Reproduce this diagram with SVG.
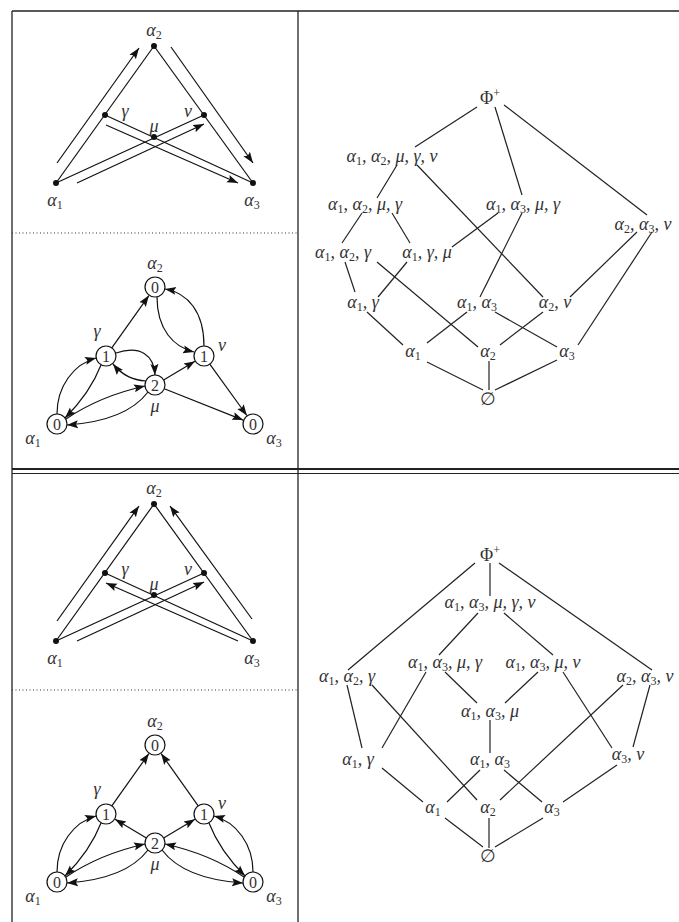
<svg xmlns="http://www.w3.org/2000/svg" width="679" height="922" viewBox="0 0 679 922">
<defs>
<marker id="ah" markerUnits="userSpaceOnUse" markerWidth="12" markerHeight="10" viewBox="0 0 12 10" refX="11" refY="5" orient="auto">
<path d="M0,1 L11,5 L0,9 L2,5 Z" fill="#111"/>
</marker>
</defs>
<style>
.frame{stroke:#222;stroke-width:1.3;fill:none}
.dot{stroke:#333;stroke-width:1;stroke-dasharray:1 2.5;fill:none}
.ln{stroke:#111;stroke-width:1.2;fill:none}
.ar{stroke:#111;stroke-width:1.2;fill:none;marker-end:url(#ah)}
.pt{fill:#111}
.nd{fill:#fff;stroke:#111;stroke-width:1.2}
text{font-family:"Liberation Serif","Times New Roman","DejaVu Serif",serif;fill:#333;text-anchor:middle}
.m{font-style:italic;font-size:18px}
.u{font-style:normal;font-size:18px}
.d{font-style:normal;font-size:16px}
.s{font-style:normal;font-size:12px}
.lt{stroke:#222;stroke-width:1.2;fill:none}
</style>

<g id="table">
<line class="frame" x1="12" y1="11" x2="679" y2="11"/>
<line class="frame" x1="12" y1="11" x2="12" y2="922"/>
<line class="frame" x1="298" y1="11" x2="298" y2="922"/>
<line x1="12" y1="469" x2="679" y2="469" stroke="#222" stroke-width="2"/>
<line x1="12" y1="473.5" x2="679" y2="473.5" stroke="#222" stroke-width="1.2"/>
<line class="dot" x1="12" y1="233" x2="298" y2="233"/>
<line class="dot" x1="12" y1="690" x2="298" y2="690"/>
</g>

<!-- ===== Top-left: root configuration ===== -->
<g id="connectors-top-roots">
<line class="ln" x1="56" y1="183" x2="154" y2="46"/>
<line class="ln" x1="154" y1="46" x2="253" y2="183"/>
<line class="ln" x1="56" y1="183" x2="204" y2="115"/>
<line class="ln" x1="105" y1="115" x2="253" y2="183"/>
<line class="ar" x1="57" y1="163" x2="139" y2="48"/>
<line class="ar" x1="171" y1="47" x2="253" y2="163"/>
<line class="ar" x1="77" y1="183" x2="204" y2="124"/>
<line class="ar" x1="106" y1="125" x2="238" y2="183"/>
</g>
<g id="t-a1"><circle class="pt" cx="56" cy="183" r="3"/><text class="m" x="55" y="206">α<tspan class="s" dy="3">1</tspan></text></g>
<g id="t-a2"><circle class="pt" cx="154" cy="46" r="3"/><text class="m" x="154" y="36">α<tspan class="s" dy="3">2</tspan></text></g>
<g id="t-a3"><circle class="pt" cx="253" cy="183" r="3"/><text class="m" x="252" y="206">α<tspan class="s" dy="3">3</tspan></text></g>
<g id="t-g"><circle class="pt" cx="105" cy="115" r="3"/><text class="m" x="125" y="117">γ</text></g>
<g id="t-n"><circle class="pt" cx="204" cy="115" r="3"/><text class="m" x="188" y="117">ν</text></g>
<g id="t-mu"><circle class="pt" cx="154" cy="137" r="3"/><text class="m" x="154" y="132">μ</text></g>

<!-- ===== Top-left: graph ===== -->
<g id="connectors-top-graph">
<path class="ar" d="M111.8,347.8 L148.9,295.6"/>
<path class="ar" d="M157,297 C157,330 174,347 194,352"/>
<path class="ar" d="M204,346 C204,312 188,293 165,289"/>
<path class="ar" d="M116,353 C140,345 154,355 155,375"/>
<path class="ar" d="M146,381 Q126,380 113,364"/>
<path class="ar" d="M163.6,379.9 L195,361.3"/>
<path class="ar" d="M209.8,364.1 L246.9,415.5"/>
<path class="ar" d="M164.3,388.7 L243.2,420.1"/>
<path class="ar" d="M57,414 C57,386 74,364 96,358"/>
<path class="ar" d="M101,365 C94,383 81,402 65,418"/>
<path class="ar" d="M66,419 Q100,396 145,386"/>
<path class="ar" d="M148,392 Q126,421 67,425"/>
</g>
<g id="g1-a2"><circle class="nd" cx="155" cy="287" r="10"/><text class="d" x="155" y="292.5">0</text><text class="m" x="155" y="269">α<tspan class="s" dy="3">2</tspan></text></g>
<g id="g1-g"><circle class="nd" cx="106" cy="356" r="10"/><text class="d" x="106" y="361.5">1</text><text class="m" x="97" y="337">γ</text></g>
<g id="g1-n"><circle class="nd" cx="204" cy="356" r="10"/><text class="d" x="204" y="361.5">1</text><text class="m" x="222" y="351">ν</text></g>
<g id="g1-mu"><circle class="nd" cx="155" cy="385" r="10"/><text class="d" x="155" y="390.5">2</text><text class="m" x="155" y="412">μ</text></g>
<g id="g1-a1"><circle class="nd" cx="57" cy="424" r="10"/><text class="d" x="57" y="429.5">0</text><text class="m" x="33" y="444">α<tspan class="s" dy="3">1</tspan></text></g>
<g id="g1-a3"><circle class="nd" cx="253" cy="424" r="10"/><text class="d" x="253" y="429.5">0</text><text class="m" x="274" y="444">α<tspan class="s" dy="3">3</tspan></text></g>

<!-- ===== Top-right lattice ===== -->
<g id="connectors-top-lattice">
<line class="lt" x1="477" y1="107" x2="415" y2="147"/>
<line class="lt" x1="495" y1="107" x2="522" y2="195"/>
<line class="lt" x1="504" y1="105" x2="647" y2="215"/>
<line class="lt" x1="397" y1="165" x2="377" y2="198"/>
<line class="lt" x1="417" y1="165" x2="543" y2="297"/>
<line class="lt" x1="362" y1="213" x2="342" y2="243"/>
<line class="lt" x1="392" y1="213" x2="410" y2="243"/>
<line class="lt" x1="498" y1="213" x2="452" y2="247"/>
<line class="lt" x1="522" y1="213" x2="480" y2="297"/>
<line class="lt" x1="637" y1="232" x2="570" y2="297"/>
<line class="lt" x1="652" y1="232" x2="578" y2="345"/>
<line class="lt" x1="345" y1="262" x2="355" y2="292"/>
<line class="lt" x1="377" y1="262" x2="478" y2="347"/>
<line class="lt" x1="407" y1="262" x2="378" y2="297"/>
<line class="lt" x1="367" y1="312" x2="403" y2="345"/>
<line class="lt" x1="467" y1="312" x2="427" y2="343"/>
<line class="lt" x1="495" y1="312" x2="557" y2="347"/>
<line class="lt" x1="543" y1="312" x2="500" y2="345"/>
<line class="lt" x1="427" y1="362" x2="483" y2="390"/>
<line class="lt" x1="489" y1="361" x2="489" y2="390"/>
<line class="lt" x1="557" y1="360" x2="495" y2="390"/>
</g>
<g id="L1-top"><text class="u" x="490" y="104">Φ<tspan class="s" dy="-7">+</tspan></text></g>
<g id="L1-a1a2mgn"><text class="m" x="392" y="162">α<tspan class="s" dy="3">1</tspan><tspan dy="-3">, α</tspan><tspan class="s" dy="3">2</tspan><tspan dy="-3">, μ, γ, ν</tspan></text></g>
<g id="L1-a1a2mg"><text class="m" x="365" y="210">α<tspan class="s" dy="3">1</tspan><tspan dy="-3">, α</tspan><tspan class="s" dy="3">2</tspan><tspan dy="-3">, μ, γ</tspan></text></g>
<g id="L1-a1a3mg"><text class="m" x="523" y="210">α<tspan class="s" dy="3">1</tspan><tspan dy="-3">, α</tspan><tspan class="s" dy="3">3</tspan><tspan dy="-3">, μ, γ</tspan></text></g>
<g id="L1-a2a3n"><text class="m" x="643" y="230">α<tspan class="s" dy="3">2</tspan><tspan dy="-3">, α</tspan><tspan class="s" dy="3">3</tspan><tspan dy="-3">, ν</tspan></text></g>
<g id="L1-a1a2g"><text class="m" x="343" y="258">α<tspan class="s" dy="3">1</tspan><tspan dy="-3">, α</tspan><tspan class="s" dy="3">2</tspan><tspan dy="-3">, γ</tspan></text></g>
<g id="L1-a1gm"><text class="m" x="427" y="258">α<tspan class="s" dy="3">1</tspan><tspan dy="-3">, γ, μ</tspan></text></g>
<g id="L1-a1g"><text class="m" x="363" y="308">α<tspan class="s" dy="3">1</tspan><tspan dy="-3">, γ</tspan></text></g>
<g id="L1-a1a3"><text class="m" x="477" y="308">α<tspan class="s" dy="3">1</tspan><tspan dy="-3">, α</tspan><tspan class="s" dy="3">3</tspan></text></g>
<g id="L1-a2n"><text class="m" x="555" y="308">α<tspan class="s" dy="3">2</tspan><tspan dy="-3">, ν</tspan></text></g>
<g id="L1-a1"><text class="m" x="413" y="357">α<tspan class="s" dy="3">1</tspan></text></g>
<g id="L1-a2"><text class="m" x="488" y="357">α<tspan class="s" dy="3">2</tspan></text></g>
<g id="L1-a3"><text class="m" x="567" y="357">α<tspan class="s" dy="3">3</tspan></text></g>
<g id="L1-empty"><text class="u" x="488" y="405">∅</text></g>

<!-- ===== Bottom-left: root configuration ===== -->
<g id="connectors-bottom-roots">
<line class="ln" x1="56" y1="641" x2="154" y2="504"/>
<line class="ln" x1="154" y1="504" x2="253" y2="641"/>
<line class="ln" x1="56" y1="641" x2="204" y2="573"/>
<line class="ln" x1="105" y1="573" x2="253" y2="641"/>
<line class="ar" x1="57" y1="621" x2="139" y2="506"/>
<line class="ar" x1="252" y1="619" x2="170" y2="506"/>
<line class="ar" x1="77" y1="641" x2="204" y2="582"/>
<line class="ar" x1="238" y1="641" x2="106" y2="583"/>
</g>
<g id="b-a1"><circle class="pt" cx="56" cy="641" r="3"/><text class="m" x="55" y="664">α<tspan class="s" dy="3">1</tspan></text></g>
<g id="b-a2"><circle class="pt" cx="154" cy="504" r="3"/><text class="m" x="154" y="494">α<tspan class="s" dy="3">2</tspan></text></g>
<g id="b-a3"><circle class="pt" cx="253" cy="641" r="3"/><text class="m" x="252" y="664">α<tspan class="s" dy="3">3</tspan></text></g>
<g id="b-g"><circle class="pt" cx="105" cy="573" r="3"/><text class="m" x="125" y="575">γ</text></g>
<g id="b-n"><circle class="pt" cx="204" cy="573" r="3"/><text class="m" x="188" y="575">ν</text></g>
<g id="b-mu"><circle class="pt" cx="154" cy="595" r="3"/><text class="m" x="154" y="590">μ</text></g>

<!-- ===== Bottom-left: graph ===== -->
<g id="connectors-bottom-graph">
<path class="ar" d="M111.8,805.8 L148.9,753.6"/>
<path class="ar" d="M198.2,805.8 L161.1,753.6"/>
<path class="ar" d="M146.4,837.9 L115,819.3"/>
<path class="ar" d="M163.6,837.9 L195,819.3"/>
<path class="ar" d="M57,872 C57,844 74,822 96,816"/>
<path class="ar" d="M101,823 C94,841 81,860 65,876"/>
<path class="ar" d="M66,877 Q100,854 145,844"/>
<path class="ar" d="M148,850 Q126,879 67,883"/>
<path class="ar" d="M253,872 C253,844 236,822 214,816"/>
<path class="ar" d="M209,823 C216,841 229,860 245,876"/>
<path class="ar" d="M244,877 Q210,854 165,844"/>
<path class="ar" d="M162,850 Q184,879 243,883"/>
</g>
<g id="g2-a2"><circle class="nd" cx="155" cy="745" r="10"/><text class="d" x="155" y="750.5">0</text><text class="m" x="155" y="727">α<tspan class="s" dy="3">2</tspan></text></g>
<g id="g2-g"><circle class="nd" cx="106" cy="814" r="10"/><text class="d" x="106" y="819.5">1</text><text class="m" x="97" y="795">γ</text></g>
<g id="g2-n"><circle class="nd" cx="204" cy="814" r="10"/><text class="d" x="204" y="819.5">1</text><text class="m" x="222" y="809">ν</text></g>
<g id="g2-mu"><circle class="nd" cx="155" cy="843" r="10"/><text class="d" x="155" y="848.5">2</text><text class="m" x="155" y="870">μ</text></g>
<g id="g2-a1"><circle class="nd" cx="57" cy="882" r="10"/><text class="d" x="57" y="887.5">0</text><text class="m" x="33" y="902">α<tspan class="s" dy="3">1</tspan></text></g>
<g id="g2-a3"><circle class="nd" cx="253" cy="882" r="10"/><text class="d" x="253" y="887.5">0</text><text class="m" x="274" y="902">α<tspan class="s" dy="3">3</tspan></text></g>

<!-- ===== Bottom-right lattice ===== -->
<g id="connectors-bottom-lattice">
<line class="lt" x1="490" y1="563" x2="490" y2="596"/>
<line class="lt" x1="475" y1="563" x2="348" y2="670"/>
<line class="lt" x1="499" y1="563" x2="652" y2="670"/>
<line class="lt" x1="478" y1="613" x2="439" y2="655"/>
<line class="lt" x1="504" y1="613" x2="553" y2="655"/>
<line class="lt" x1="445" y1="672" x2="477" y2="703"/>
<line class="lt" x1="538" y1="672" x2="505" y2="703"/>
<line class="lt" x1="426" y1="672" x2="382" y2="748"/>
<line class="lt" x1="563" y1="672" x2="612" y2="748"/>
<line class="lt" x1="347" y1="685" x2="362" y2="748"/>
<line class="lt" x1="372" y1="685" x2="477" y2="800"/>
<line class="lt" x1="650" y1="685" x2="633" y2="747"/>
<line class="lt" x1="623" y1="685" x2="500" y2="800"/>
<line class="lt" x1="490" y1="720" x2="490" y2="753"/>
<line class="lt" x1="382" y1="768" x2="423" y2="802"/>
<line class="lt" x1="480" y1="770" x2="447" y2="802"/>
<line class="lt" x1="504" y1="770" x2="542" y2="802"/>
<line class="lt" x1="617" y1="765" x2="563" y2="802"/>
<line class="lt" x1="445" y1="818" x2="483" y2="847"/>
<line class="lt" x1="489" y1="818" x2="489" y2="848"/>
<line class="lt" x1="543" y1="818" x2="495" y2="847"/>
</g>
<g id="L2-top"><text class="u" x="490" y="561">Φ<tspan class="s" dy="-7">+</tspan></text></g>
<g id="L2-a1a3mgn"><text class="m" x="490" y="608">α<tspan class="s" dy="3">1</tspan><tspan dy="-3">, α</tspan><tspan class="s" dy="3">3</tspan><tspan dy="-3">, μ, γ, ν</tspan></text></g>
<g id="L2-a1a3mg"><text class="m" x="445" y="668">α<tspan class="s" dy="3">1</tspan><tspan dy="-3">, α</tspan><tspan class="s" dy="3">3</tspan><tspan dy="-3">, μ, γ</tspan></text></g>
<g id="L2-a1a3mn"><text class="m" x="543" y="668">α<tspan class="s" dy="3">1</tspan><tspan dy="-3">, α</tspan><tspan class="s" dy="3">3</tspan><tspan dy="-3">, μ, ν</tspan></text></g>
<g id="L2-a1a2g"><text class="m" x="347" y="682">α<tspan class="s" dy="3">1</tspan><tspan dy="-3">, α</tspan><tspan class="s" dy="3">2</tspan><tspan dy="-3">, γ</tspan></text></g>
<g id="L2-a2a3n"><text class="m" x="645" y="682">α<tspan class="s" dy="3">2</tspan><tspan dy="-3">, α</tspan><tspan class="s" dy="3">3</tspan><tspan dy="-3">, ν</tspan></text></g>
<g id="L2-a1a3m"><text class="m" x="490" y="717">α<tspan class="s" dy="3">1</tspan><tspan dy="-3">, α</tspan><tspan class="s" dy="3">3</tspan><tspan dy="-3">, μ</tspan></text></g>
<g id="L2-a1g"><text class="m" x="358" y="765">α<tspan class="s" dy="3">1</tspan><tspan dy="-3">, γ</tspan></text></g>
<g id="L2-a1a3"><text class="m" x="490" y="765">α<tspan class="s" dy="3">1</tspan><tspan dy="-3">, α</tspan><tspan class="s" dy="3">3</tspan></text></g>
<g id="L2-a3n"><text class="m" x="628" y="760">α<tspan class="s" dy="3">3</tspan><tspan dy="-3">, ν</tspan></text></g>
<g id="L2-a1"><text class="m" x="433" y="813">α<tspan class="s" dy="3">1</tspan></text></g>
<g id="L2-a2"><text class="m" x="488" y="813">α<tspan class="s" dy="3">2</tspan></text></g>
<g id="L2-a3"><text class="m" x="552" y="813">α<tspan class="s" dy="3">3</tspan></text></g>
<g id="L2-empty"><text class="u" x="488" y="862">∅</text></g>
</svg>
